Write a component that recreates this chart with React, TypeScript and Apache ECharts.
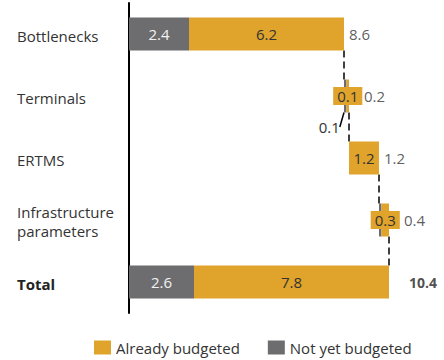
import React, { useEffect, useRef } from "react";
import * as echarts from "echarts";

const categories = ["Bottlenecks", "Terminals", "ERTMS", "Infrastructure\nparameters", "Total"];
const notYetBudgeted = [2.4, 0.1, 0, 0.1, 2.6];
const alreadyBudgeted = [6.2, 0.1, 1.2, 0.3, 7.8];
const totals = [8.6, 0.2, 1.2, 0.4, 10.4];

const ORANGE = "#E0A42C";
const GREY = "#6D6D6F";
const FONT = "'Open Sans', 'DejaVu Sans', sans-serif";

export default function App() {
  const ref = useRef<HTMLDivElement>(null);
  useEffect(() => {
    if (!ref.current) return;
    document.body.style.margin = "0";
    document.body.style.overflow = "hidden";
    const chart = echarts.init(ref.current, null, { renderer: "svg" });
    const last = categories.length - 1;
    // waterfall bases
    const base: number[] = [];
    const ends: number[] = [];
    let cum = 0;
    categories.forEach((_, i) => {
      if (i === last) {
        base.push(0);
        ends.push(totals[i]);
      } else {
        base.push(cum);
        cum += totals[i];
        ends.push(cum);
      }
    });
    const connectors = categories.slice(0, last).map((_, i) => [ends[i], i, i + 1]);
    const BAR = 33;

    chart.setOption({
      animation: false,
      textStyle: { fontFamily: FONT },
      grid: { left: 129, right: 15, top: 3, bottom: 47 },
      xAxis: { type: "value", min: 0, max: 12, show: false },
      yAxis: {
        type: "category",
        inverse: true,
        data: categories,
        axisLine: { lineStyle: { color: "#000", width: 2 } },
        axisTick: { show: false },
        axisLabel: {
          align: "left",
          margin: 112,
          fontSize: 15,
          lineHeight: 19,
          color: "#333",
          fontFamily: FONT,
          padding: [3, 0, 0, 0],
          formatter: (v: string) => (v === "Total" ? "{b|Total}" : v),
          rich: { b: { fontWeight: "bold", fontSize: 15, color: "#222", fontFamily: FONT } },
        },
      },
      legend: {
        data: ["Already budgeted", "Not yet budgeted"],
        left: 89,
        top: 335,
        padding: 5,
        icon: "rect",
        itemWidth: 17,
        itemHeight: 14,
        itemGap: 28,
        textStyle: { fontSize: 15, color: "#333", fontFamily: FONT },
      },
      series: [
        {
          type: "bar",
          name: "base",
          stack: "w",
          barWidth: BAR,
          silent: true,
          itemStyle: { color: "transparent" },
          data: base,
        },
        {
          type: "bar",
          name: "Not yet budgeted",
          stack: "w",
          barWidth: BAR,
          itemStyle: { color: GREY },
          data: notYetBudgeted.map((v, i) => ({
            value: v,
            label: {
              show: v > 0 && !(v < 0.5 && i !== 1),
              color: v < 0.5 ? "#333" : "#F2F2F2",
            },
          })),
          label: {
            show: true,
            position: "inside",
            color: "#F2F2F2",
            fontSize: 15,
            fontFamily: FONT,
            formatter: (p: any) => p.value.toFixed(1),
          },
          labelLayout: (p: any) => (p.dataIndex === 1 ? { dx: -16, dy: 31 } : {}),
          labelLine: { show: true, lineStyle: { color: "#000", width: 1.5 } },
        },
        {
          type: "bar",
          name: "Already budgeted",
          stack: "w",
          barWidth: BAR,
          itemStyle: { color: ORANGE },
          data: alreadyBudgeted.map((v) => ({
            value: v,
            label:
              v < 0.5
                ? { backgroundColor: ORANGE, padding: [2, 4, 1, 4] }
                : {},
          })),
          label: {
            show: true,
            position: "inside",
            color: "#333",
            fontSize: 15,
            fontFamily: FONT,
            formatter: (p: any) => p.value.toFixed(1),
          },
        },
        {
          type: "scatter",
          name: "totals",
          symbolSize: 0,
          silent: true,
          data: totals.map((t, i) => ({
            value: [ends[i], i],
            label: {
              distance: i === last ? 20 : alreadyBudgeted[i] < 0.5 ? 15 : 5,
              fontWeight: i === last ? "bold" : "normal",
              fontSize: i === last ? 14 : 15,
              color: i === last ? "#222" : "#333",
            },
          })),
          label: {
            show: true,
            position: "right",
            fontSize: 15,
            fontFamily: FONT,
            formatter: (p: any) => totals[p.dataIndex].toFixed(1),
          },
        },
        {
          type: "custom",
          name: "connectors",
          silent: true,
          data: connectors,
          renderItem: (params: any, api: any) => {
            const p1 = api.coord([api.value(0), api.value(1)]);
            const p2 = api.coord([api.value(0), api.value(2)]);
            return {
              type: "line",
              shape: { x1: p1[0], y1: p1[1] + BAR / 2, x2: p2[0], y2: p2[1] - BAR / 2 },
              style: { stroke: "#000", lineWidth: 1.5, lineDash: [7, 4] },
            };
          },
        },
      ],
    });
    return () => chart.dispose();
  }, []);
  return <div ref={ref} style={{ width: 444, height: 360 }} />;
}
